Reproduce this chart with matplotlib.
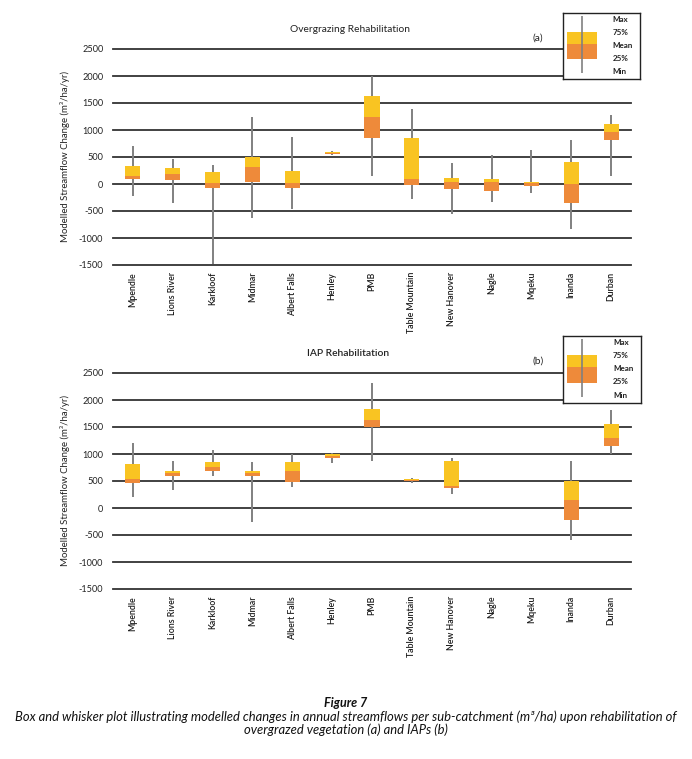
import numpy as np
import matplotlib
matplotlib.use("Agg")
import matplotlib.pyplot as plt

plt.rcParams['font.family'] = ['Lato', 'DejaVu Sans']

categories = ["Mpendle", "Lions River", "Karkloof", "Midmar", "Albert Falls", "Henley",
              "PMB", "Table Mountain", "New Hanover", "Nagle", "Mqeku", "Inanda", "Durban"]

# (a) Overgrazing rehabilitation
og_min  = [-220, -356, -1490, -630, -470, 540, 145, -275, -556, -325, -162, -837, 150]
og_q25  = [90, 70, -75, 30, -75, 560, 845, -20, -94, -131, -37, -344, 806]
og_mean = [140, 190, 20, 320, 25, 580, 1237, 100, 37, 37, 12, 0, 969]
og_q75  = [330, 300, 220, 506, 245, 595, 1625, 844, 112, 100, 44, 406, 1106]
og_max  = [706, 456, 344, 1237, 870, 620, 2006, 1394, 381, 537, 631, 819, 1269]

# (b) IAP rehabilitation (no data for Nagle and Mqeku)
nan = np.nan
iap_min  = [210, 327, 598, -253, 395, 827, 876, 470, 253, nan, nan, -592, 993]
iap_q25  = [463, 586, 691, 598, 487, 919, 1493, 495, 376, nan, nan, -222, 1154]
iap_mean = [537, 642, 765, 642, 679, 963, 1629, 510, 413, nan, nan, 148, 1302]
iap_q75  = [814, 679, 851, 685, 858, 993, 1832, 530, 876, nan, nan, 500, 1555]
iap_max  = [1197, 864, 1074, 851, 993, 1012, 2320, 560, 919, nan, nan, 870, 1814]

yticks = [-1500, -1000, -500, 0, 500, 1000, 1500, 2000, 2500]
legend_labels = ["Max", "75%", "Mean", "25%", "Min"]

YELLOW = "#F9C422"
ORANGE = "#EE8A3A"
WHISK = "#808080"
GRID = "#333333"

W, H = 692, 759
fig = plt.figure(figsize=(W / 100, H / 100), dpi=100)


def px_axes(x0, y0, x1, y1):
    return fig.add_axes([x0 / W, 1 - y1 / H, (x1 - x0) / W, (y1 - y0) / H])


def draw_panel(ax, vmin, q25, mean, q75, vmax):
    x = np.arange(len(categories))
    vmin, q25, mean, q75, vmax = map(np.asarray, (vmin, q25, mean, q75, vmax))
    ax.vlines(x, vmin, vmax, color=WHISK, lw=1.4, zorder=3)
    bw = 0.38
    ax.bar(x, mean - q25, bottom=q25, width=bw, color=ORANGE, zorder=4, linewidth=0)
    ax.bar(x, q75 - mean, bottom=mean, width=bw, color=YELLOW, zorder=4, linewidth=0)
    ax.set_xlim(-0.5, len(categories) - 0.5)
    ax.set_ylim(-1500, 2500)
    ax.set_yticks(yticks)
    ax.set_yticklabels([str(v) for v in yticks], fontsize=6.6, color="#222222")
    ax.set_xticks(x)
    ax.set_xticklabels(categories, rotation=90, fontsize=6.3, va="top", ha="center",
                       fontweight="semibold", color="#1a1a1a")
    for s in ax.spines.values():
        s.set_visible(False)
    ax.tick_params(axis="both", length=0)
    ax.tick_params(axis="x", pad=5)
    ax.tick_params(axis="y", pad=7)
    ax.yaxis.grid(True, color=GRID, lw=1.3, zorder=1)
    ax.set_axisbelow(True)
    for gl in ax.get_ygridlines():
        gl.set_clip_on(False)
    ax.set_ylabel("Modelled Streamflow Change (m³/ha/yr)", fontsize=6.9, labelpad=6,
                  color="#222222")


def draw_legend(x0, y0, x1, y1):
    lax = px_axes(x0, y0, x1, y1)
    lax.set_xlim(0, 1)
    lax.set_ylim(0, 1)
    lax.set_xticks([])
    lax.set_yticks([])
    for s in lax.spines.values():
        s.set_color("#222222")
        s.set_linewidth(1.0)
    lax.set_facecolor("white")
    lax.set_zorder(10)
    lax.vlines([0.247], [0.09], [0.955], color=WHISK, lw=1.2)
    lax.bar([0.247], [0.23], bottom=[0.30], width=0.39, color=ORANGE, linewidth=0)
    lax.bar([0.247], [0.18], bottom=[0.53], width=0.39, color=YELLOW, linewidth=0)
    for lab, yy in zip(legend_labels, [0.90, 0.705, 0.51, 0.315, 0.115]):
        lax.text(0.64, yy, lab, fontsize=5.8, fontweight="bold", va="center", ha="left",
                 color="#222222")


# Panel (a)
ax1 = px_axes(113, 49, 631, 265)
draw_panel(ax1, og_min, og_q25, og_mean, og_q75, og_max)
fig.text(350 / W, 1 - 30 / H, "Overgrazing Rehabilitation", fontsize=7.4, ha="center",
         va="center", color="#222222")
fig.text(538 / W, 1 - 38 / H, "(a)", fontsize=7.4, ha="center", va="center", color="#222222")
draw_legend(563, 13, 640, 79)

# Panel (b)
ax2 = px_axes(113, 373, 631, 589)
draw_panel(ax2, iap_min, iap_q25, iap_mean, iap_q75, iap_max)
fig.text(348 / W, 1 - 354 / H, "IAP Rehabilitation", fontsize=7.4, ha="center",
         va="center", color="#222222", fontweight="semibold")
fig.text(538 / W, 1 - 361 / H, "(b)", fontsize=7.4, ha="center", va="center", color="#222222")
draw_legend(563, 336, 641, 403)

# Caption
fig.text(346 / W, 1 - 703 / H, "Figure 7", fontsize=9.0, fontweight="bold", style="italic",
         ha="center", va="center", color="#111111")
fig.text(346 / W, 1 - 717 / H,
         "Box and whisker plot illustrating modelled changes in annual streamflows per "
         "sub-catchment (m³/ha) upon rehabilitation of",
         fontsize=9.4, style="italic", ha="center", va="center", color="#111111")
fig.text(346 / W, 1 - 730 / H, "overgrazed vegetation (a) and IAPs (b)",
         fontsize=9.4, style="italic", ha="center", va="center", color="#111111")

fig.savefig("out.png", dpi=100)
